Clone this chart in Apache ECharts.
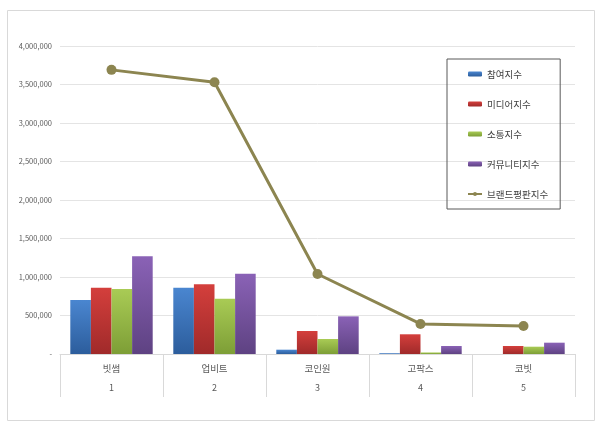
<!DOCTYPE html>
<html><head><meta charset="utf-8">
<script src="https://cdn.jsdelivr.net/npm/echarts@6/dist/echarts.min.js"></script>
<style>html,body{margin:0;padding:0;background:#fff}#c{width:600px;height:427px}</style>
</head><body><div id="c"></div>
<script>
var categories = ['빗썸','업비트','코인원','고팍스','코빗'];
var ranks = ['1','2','3','4','5'];
var participation = [700000, 861000, 56000, 10000, 0];
var media = [861000, 905000, 299000, 256000, 104000];
var communication = [844000, 719000, 195000, 20000, 95000];
var community = [1269000, 1043000, 489000, 104000, 147000];
var brandIndex = [3690000, 3530000, 1039000, 390000, 364000];
var yTicks = [0, 500000, 1000000, 1500000, 2000000, 2500000, 3000000, 3500000, 4000000];

function grad(top, bottom){
  return new echarts.graphic.LinearGradient(0,0,0,1,[{offset:0,color:top},{offset:1,color:bottom}]);
}
function fmt(v){
  if (v === 0) return '-';
  return String(v).replace(/\B(?=(\d{3})+(?!\d))/g, ',');
}
var chart = echarts.init(document.getElementById('c'));
var font = 'Noto Sans CJK KR, sans-serif';
chart.setOption({
  animation:false,
  textStyle:{fontFamily:font},
  graphic:[{type:'rect',shape:{x:7.5,y:10.5,width:587,height:410},style:{fill:'none',stroke:'#d9d9d9',lineWidth:1},silent:true,z:-1}],
  grid:{left:60,right:25,top:46,bottom:73},
  legend:{
    orient:'vertical', left:447, top:59,
    padding:[9,12,9,20], itemGap:18, itemWidth:14, itemHeight:5,
    borderColor:'#595959', borderWidth:1,
    textStyle:{fontSize:9.5,color:'#404040',lineHeight:12,fontFamily:font},
    data:['참여지수','미디어지수','소통지수','커뮤니티지수','브랜드평판지수']
  },
  xAxis:{
    type:'category', data:categories,
    axisLine:{lineStyle:{color:'#d9d9d9'}},
    axisTick:{show:true,length:43,lineStyle:{color:'#d9d9d9'}},
    axisLabel:{margin:4,
      formatter:function(v,i){return '{a|'+v+'}\n{b|'+ranks[i]+'}';},
      rich:{a:{fontSize:9.5,color:'#595959',lineHeight:20,fontFamily:font},b:{fontSize:9,color:'#595959',lineHeight:20,fontFamily:font}}
    }
  },
  yAxis:{
    type:'value', min:yTicks[0], max:yTicks[yTicks.length-1], interval:yTicks[1]-yTicks[0],
    axisLine:{show:false}, axisTick:{show:false},
    splitLine:{lineStyle:{color:'#e4e4e4'}},
    axisLabel:{fontSize:7.5,color:'#595959',margin:8,formatter:fmt}
  },
  series:[
    {name:'참여지수',type:'bar',data:participation,barGap:'0%',barCategoryGap:'20%',itemStyle:{color:grad('#4a86d0','#2c5d9c')}},
    {name:'미디어지수',type:'bar',data:media,barGap:'0%',itemStyle:{color:grad('#d43f3c','#a02a2a')}},
    {name:'소통지수',type:'bar',data:communication,barGap:'0%',itemStyle:{color:grad('#a9cb55','#7d9e36')}},
    {name:'커뮤니티지수',type:'bar',data:community,barGap:'0%',itemStyle:{color:grad('#8a62b6','#5e4282')}},
    {name:'브랜드평판지수',type:'line',data:brandIndex,symbol:'circle',symbolSize:10,
      lineStyle:{color:'#8c8550',width:3},itemStyle:{color:'#8c8550'}}
  ]
});
</script></body></html>
